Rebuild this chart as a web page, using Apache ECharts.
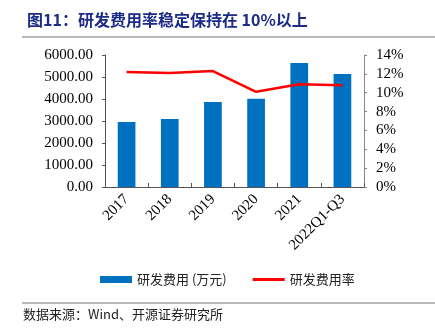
<!DOCTYPE html>
<html><head><meta charset="utf-8">
<script src="https://cdn.jsdelivr.net/npm/echarts@6/dist/echarts.min.js"></script>
<style>html,body{margin:0;padding:0;background:#fff}#c{width:435px;height:329px}</style>
</head><body><div id="c"></div>
<script>
var categories = ['2017','2018','2019','2020','2021','2022Q1-Q3'];
var rdExpense = [2950, 3090, 3860, 4010, 5640, 5140];
var rdRate = [12.2, 12.1, 12.3, 10.1, 10.9, 10.8];
var chart = echarts.init(document.getElementById('c'));
var serif = '"Liberation Serif", "Times New Roman", serif';
chart.setOption({
  animation: false,
  title: {
    text: '图11：研发费用率稳定保持在 10%以上',
    left: 22, top: 7,
    textStyle: {fontFamily: '"Noto Sans CJK SC"', fontSize: 16, fontWeight: 'bold', color: '#1c2a88'}
  },
  graphic: [
    {type: 'line', shape: {x1: 22, y1: 37, x2: 435, y2: 37}, style: {stroke: '#a0a0a0', lineWidth: 1.5}},
    {type: 'line', shape: {x1: 22, y1: 303, x2: 435, y2: 303}, style: {stroke: '#a0a0a0', lineWidth: 1.5}},
    {type: 'text', left: 23, top: 308, style: {text: '数据来源：Wind、开源证券研究所', font: '13px "Noto Sans CJK SC"', fill: '#222'}}
  ],
  legend: {
    bottom: 38, left: 95, itemGap: 26,
    textStyle: {fontFamily: '"Noto Sans CJK SC"', fontSize: 13, color: '#222'},
    data: [
      {name: '研发费用 (万元)', icon: 'rect', itemStyle: {color: '#0070c0'}},
      {name: '研发费用率', icon: 'path://M0,0L32,0L32,3L0,3Z', itemStyle: {color: '#ff0000'}}
    ],
    itemWidth: 32, itemHeight: 7
  },
  grid: {left: 105, right: 71, top: 55, bottom: 142},
  xAxis: {
    type: 'category', data: categories,
    axisLine: {lineStyle: {color: '#555'}},
    axisTick: {show: true, inside: true, length: 4, lineStyle: {color: '#555'}},
    axisLabel: {rotate: 45, color: '#000', fontFamily: serif, fontSize: 15, margin: 10, interval: 0}
  },
  yAxis: [
    {type: 'value', min: 0, max: 6000, interval: 1000,
     axisLine: {show: true, lineStyle: {color: '#555'}},
     axisTick: {show: true, length: 3, lineStyle: {color: '#555'}},
     splitLine: {show: false},
     axisLabel: {color: '#000', fontFamily: serif, fontSize: 15, margin: 12, formatter: function(v){return v.toFixed(2);}}},
    {type: 'value', min: 0, max: 14, interval: 2,
     axisLine: {show: true, lineStyle: {color: '#888'}},
     axisTick: {show: true, length: 3, lineStyle: {color: '#888'}},
     splitLine: {show: false},
     axisLabel: {color: '#000', fontFamily: serif, fontSize: 15, margin: 12, formatter: '{value}%'}}
  ],
  series: [
    {name: '研发费用 (万元)', type: 'bar', data: rdExpense, barWidth: '41%', itemStyle: {color: '#0070c0'}},
    {name: '研发费用率', type: 'line', yAxisIndex: 1, data: rdRate, symbol: 'none', lineStyle: {color: '#ff0000', width: 2.5}}
  ]
});
</script></body></html>
